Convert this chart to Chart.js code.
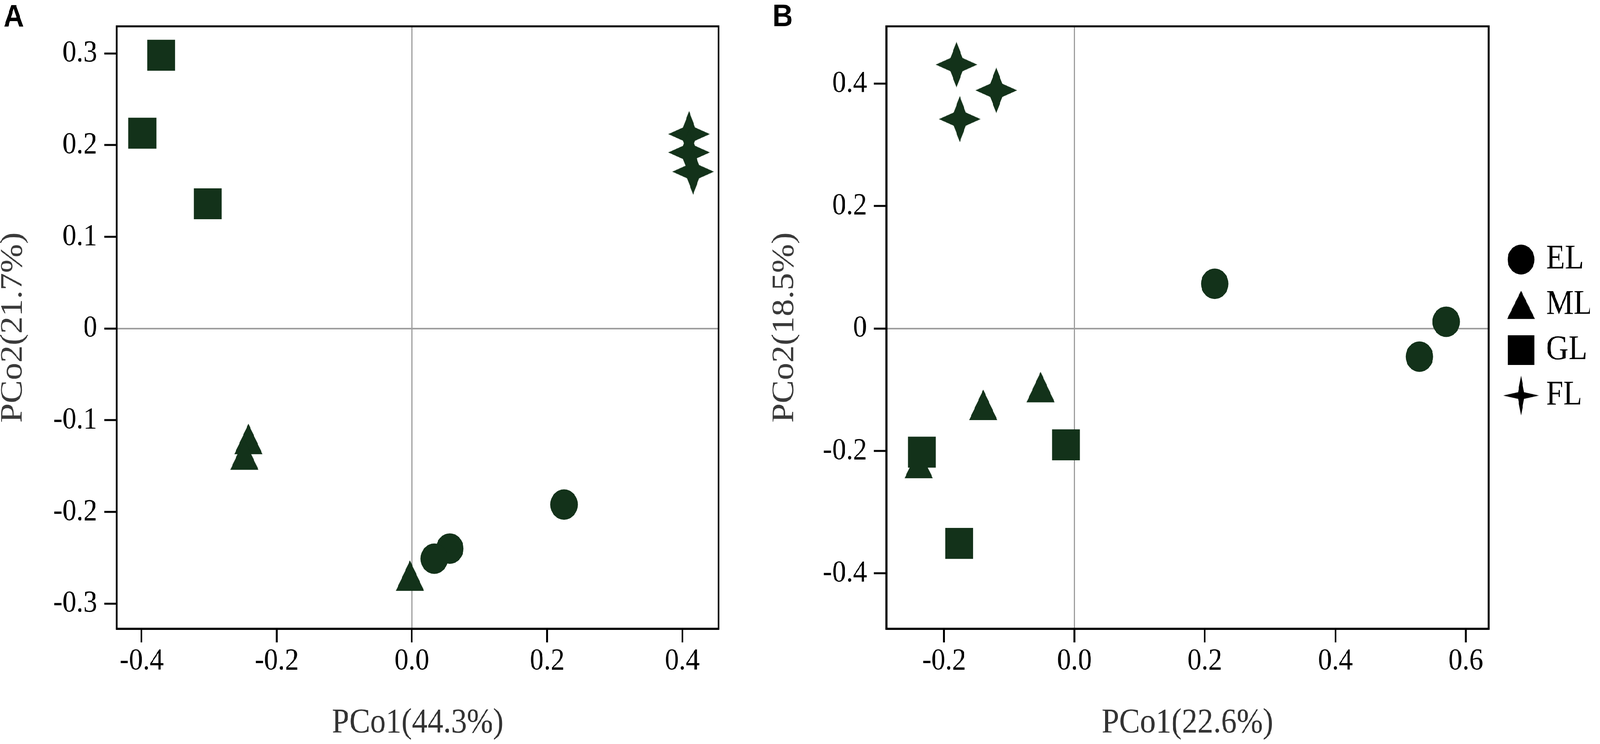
<!DOCTYPE html>
<html>
<head>
<meta charset="utf-8">
<title>PCoA</title>
<script src="https://cdn.jsdelivr.net/npm/chart.js@4.4.1/dist/chart.umd.min.js"></script>
<style>
  html, body { margin: 0; padding: 0; background: #fff; width: 100%; height: 100%; overflow: hidden; }
  #quadro { position: absolute; left: 0; top: 0; width: 4540px; height: 1904px; transform-origin: 0 0; background: #fff; }
  canvas { position: absolute; top: 0; }
  #graficoA { left: 0; }
  #graficoB { left: 2189px; }
</style>
</head>
<body>
<div id="quadro">
  <canvas id="graficoA" width="2100" height="1904"></canvas>
  <canvas id="graficoB" width="2322" height="1904"></canvas>
</div>
<script>
// Grupos (ordem da legenda)
const grupos = ['EL', 'ML', 'GL', 'FL'];

// Painel A: pontos [PCo1, PCo2]
const elA = [[0.225, -0.192], [0.056, -0.240], [0.033, -0.251]];
const mlA = [[-0.242, -0.126], [-0.248, -0.143], [-0.003, -0.275]];
const glA = [[-0.371, 0.298], [-0.399, 0.213], [-0.302, 0.136]];
const flA = [[0.410, 0.212], [0.410, 0.192], [0.416, 0.171]];

// Painel B: pontos [PCo1, PCo2]
const elB = [[0.215, 0.073], [0.570, 0.011], [0.529, -0.046]];
const mlB = [[-0.052, -0.104], [-0.140, -0.133], [-0.239, -0.228]];
const glB = [[-0.234, -0.202], [-0.013, -0.190], [-0.177, -0.351]];
const flB = [[-0.181, 0.431], [-0.120, 0.389], [-0.176, 0.342]];

// Ticks e rótulos
const xTicksA = [-0.4, -0.2, 0, 0.2, 0.4];
const xRotulosA = ['-0.4', '-0.2', '0.0', '0.2', '0.4'];
const yTicksA = [-0.3, -0.2, -0.1, 0, 0.1, 0.2, 0.3];
const yRotulosA = ['-0.3', '-0.2', '-0.1', '0', '0.1', '0.2', '0.3'];
const xTicksB = [-0.2, 0, 0.2, 0.4, 0.6];
const xRotulosB = ['-0.2', '0.0', '0.2', '0.4', '0.6'];
const yTicksB = [-0.4, -0.2, 0, 0.2, 0.4];
const yRotulosB = ['-0.4', '-0.2', '0', '0.2', '0.4'];

const corPonto = '#13321a';
const cinzaZero = '#9e9e9e';
const serifa = '"Liberation Serif", "Times New Roman", serif';

// Ajusta o quadro de 4540x1904 à janela real
const escalaX = window.innerWidth / 4540;
const escalaY = window.innerHeight / 1904;
document.getElementById('quadro').style.transform = 'scale(' + escalaX + ',' + escalaY + ')';

// Marcadores desenhados em canvas
function criarEstrela(raio, interno, cor) {
  const c = document.createElement('canvas');
  const t = Math.ceil(raio * 2 + 2);
  c.width = t;
  c.height = t;
  const g = c.getContext('2d');
  g.fillStyle = cor;
  g.beginPath();
  for (let i = 0; i < 8; i++) {
    const ang = -Math.PI / 2 + i * Math.PI / 4;
    const r = i % 2 === 0 ? raio : interno;
    const px = t / 2 + Math.cos(ang) * r;
    const py = t / 2 + Math.sin(ang) * r;
    if (i === 0) g.moveTo(px, py); else g.lineTo(px, py);
  }
  g.closePath();
  g.fill();
  return c;
}

function criarTriangulo(larg, alt, cor, centroide) {
  const c = document.createElement('canvas');
  c.width = larg + 2;
  c.height = (centroide ? Math.round(alt * 4 / 3) : alt) + 2;
  const g = c.getContext('2d');
  g.fillStyle = cor;
  g.beginPath();
  g.moveTo(c.width / 2, 1);
  g.lineTo(c.width / 2 + larg / 2, 1 + alt);
  g.lineTo(c.width / 2 - larg / 2, 1 + alt);
  g.closePath();
  g.fill();
  return c;
}

function criarQuadrado(lado, cor) {
  const c = document.createElement('canvas');
  c.width = lado;
  c.height = lado;
  const g = c.getContext('2d');
  g.fillStyle = cor;
  g.fillRect(0, 0, lado, lado);
  return c;
}

const estilos = ['circle', criarTriangulo(80, 78, corPonto, true), 'rect', criarEstrela(59, 24, corPonto)];
const raios = [39, 40, 56, 59];
const ordem = [0, 2, 1, 3];
const estilosLegenda = ['circle', criarTriangulo(79, 72, '#000', false), criarQuadrado(76, '#000'), criarEstrela(51, 12, '#000')];

function montarDatasets(series) {
  return series.map((pontos, i) => ({
    label: grupos[i],
    data: pontos.map(p => ({ x: p[0], y: p[1] })),
    pointStyle: estilos[i],
    pointRadius: raios[i],
    pointHoverRadius: raios[i],
    backgroundColor: corPonto,
    borderColor: corPonto,
    borderWidth: 0,
    order: ordem[i]
  }));
}

// Moldura completa da área do gráfico
const moldura = {
  id: 'moldura',
  afterDatasetsDraw(chart) {
    const { ctx, chartArea: a } = chart;
    ctx.save();
    ctx.strokeStyle = '#000';
    ctx.lineWidth = 5;
    ctx.strokeRect(a.left, a.top, a.right - a.left, a.bottom - a.top);
    ctx.restore();
  }
};

// Letra do painel (A / B)
const rotuloPainel = {
  id: 'rotuloPainel',
  afterDraw(chart, args, opts) {
    const ctx = chart.ctx;
    ctx.save();
    ctx.font = 'bold 80px "Liberation Sans", Arial, sans-serif';
    ctx.fillStyle = '#000';
    ctx.textBaseline = 'alphabetic';
    ctx.fillText(opts.texto, opts.x, opts.y);
    ctx.restore();
  }
};

function corGrade(c) {
  return c.tick && c.tick.value === 0 ? cinzaZero : 'rgba(0,0,0,0)';
}

function eixoX(min, max, ticks, rotulos, titulo) {
  return {
    type: 'linear', position: 'bottom', min: min, max: max,
    afterBuildTicks: s => { s.ticks = ticks.map(v => ({ value: v })); },
    afterFit: s => { s.height = 295; },
    ticks: {
      autoSkip: false, maxRotation: 0, minRotation: 0, padding: 1, color: '#000',
      font: { family: serifa, size: 79 },
      callback: (v, i) => rotulos[i]
    },
    grid: { color: corGrade, lineWidth: 3, drawTicks: true, tickLength: 35, tickColor: '#000', tickWidth: 5 },
    border: { display: true, color: '#000', width: 5 },
    title: { display: true, text: titulo, color: '#333', font: { family: serifa, size: 89 }, padding: 0 }
  };
}

function eixoY(min, max, ticks, rotulos, titulo, largura) {
  return {
    type: 'linear', position: 'left', min: min, max: max,
    afterBuildTicks: s => { s.ticks = ticks.map(v => ({ value: v })); },
    afterFit: s => { s.width = largura; },
    ticks: {
      autoSkip: false, padding: 20, color: '#000',
      font: { family: serifa, size: 79 },
      callback: (v, i) => rotulos[i]
    },
    grid: { color: corGrade, lineWidth: 4, drawTicks: true, tickLength: 35, tickColor: '#000', tickWidth: 5 },
    border: { display: true, color: '#000', width: 5 },
    title: { display: true, text: titulo, color: '#3a3a3a', font: { family: serifa, size: 89, lineHeight: 0.85 }, padding: 0 }
  };
}

// Painel A
new Chart(document.getElementById('graficoA'), {
  type: 'scatter',
  data: { datasets: montarDatasets([elA, mlA, glA, flA]) },
  options: {
    responsive: false,
    animation: false,
    layout: { autoPadding: false, padding: { top: 16, right: 61, left: 0, bottom: 0 } },
    scales: {
      x: eixoX(-0.437, 0.4537, xTicksA, xRotulosA, 'PCo1(44.3%)'),
      y: eixoY(-0.3274, 0.3295, yTicksA, yRotulosA, 'PCo2(21.7%)', 331)
    },
    plugins: {
      legend: { display: false },
      tooltip: { enabled: false },
      rotuloPainel: { texto: 'A', x: 10, y: 68 }
    }
  },
  plugins: [moldura, rotuloPainel]
});

// Painel B (com legenda)
new Chart(document.getElementById('graficoB'), {
  type: 'scatter',
  data: { datasets: montarDatasets([elB, mlB, glB, flB]) },
  options: {
    responsive: false,
    animation: false,
    layout: { autoPadding: false, padding: { top: 16, right: 0, left: 0, bottom: 0 } },
    scales: {
      x: eixoX(-0.2886, 0.6351, xTicksB, xRotulosB, 'PCo1(22.6%)'),
      y: eixoY(-0.4904, 0.4935, yTicksB, yRotulosB, 'PCo2(18.5%)', 326),
      // eixo vazio só para afastar a legenda
      y2: {
        type: 'linear', position: 'right', display: true,
        grid: { display: false, drawTicks: false },
        ticks: { display: false },
        border: { display: false },
        afterFit: s => { s.width = 37; }
      }
    },
    plugins: {
      tooltip: { enabled: false },
      legend: {
        display: true,
        position: 'right',
        align: 'center',
        fullSize: false,
        maxWidth: 250,
        labels: {
          usePointStyle: true,
          boxWidth: 54,
          boxHeight: 54,
          padding: 28,
          color: '#000',
          font: { family: serifa, size: 88 },
          generateLabels: () => grupos.map((g, i) => ({
            text: g,
            fillStyle: '#000',
            strokeStyle: '#000',
            fontColor: '#000',
            lineWidth: 0,
            pointStyle: estilosLegenda[i],
            hidden: false,
            datasetIndex: i
          }))
        }
      },
      rotuloPainel: { texto: 'B', x: 3, y: 67 }
    }
  },
  plugins: [moldura, rotuloPainel]
});
</script>
</body>
</html>
